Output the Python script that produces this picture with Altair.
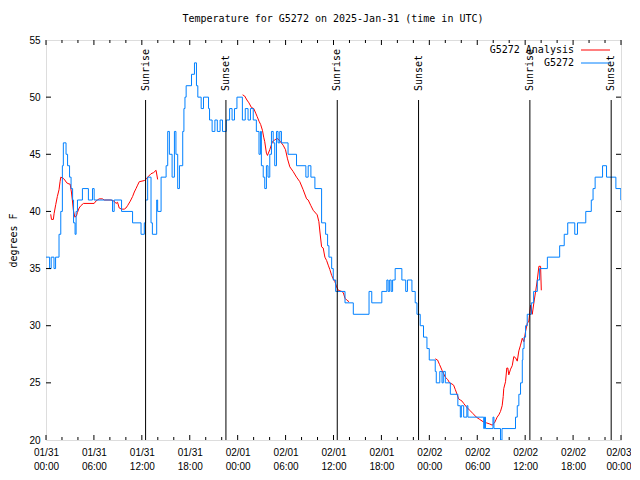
import altair as alt
import pandas as pd

TITLE = "Temperature for G5272 on 2025-Jan-31 (time in UTC)"
Y_TITLE = "degrees F"
OBS_NAME = "G5272"
ANA_NAME = "G5272 Analysis"
DAY_LABELS = ["01/31", "02/01", "02/02", "02/03"]

# hours since 2025-01-31 00:00 UTC, observed temperature (deg F)
obs_hours = [0.0, 0.45, 0.65, 1.0, 1.2, 1.63, 1.85, 2.05, 2.17, 2.51, 2.70, 2.95, 3.14, 3.33,
             3.45, 3.64, 3.77, 3.94, 4.56, 5.31, 5.82, 6.03, 8.33, 8.54, 9.46, 10.84, 11.90, 12.31,
             12.47, 12.73, 13.15, 13.32, 13.86, 13.98, 14.41, 15.04, 15.24, 15.45, 15.79, 16.08,
             16.27, 16.49, 16.71, 17.12, 17.27, 17.40, 17.55, 18.22, 18.59, 18.84, 19.01, 19.43,
             19.72, 20.35, 20.48, 20.80, 21.15, 21.45, 21.80, 22.10, 22.58, 22.99,
             23.30, 23.60, 23.91, 24.59, 24.95, 25.30, 25.60, 25.95, 26.34, 26.67,
             26.85, 26.97, 27.20, 27.39, 27.60, 27.80, 28.02, 28.23, 28.45, 28.64, 28.86, 29.06,
             29.27, 29.48, 30.31, 31.37, 32.54, 32.83, 33.17, 33.67, 34.51, 35.01, 35.26, 35.43,
             35.77, 35.97, 36.27, 37.44, 38.48, 40.45, 40.79, 42.05, 42.68, 42.84, 43.03, 43.22,
             43.40, 43.72, 44.56, 45.04, 45.26, 45.82, 46.23, 46.45, 46.86, 47.27, 47.70, 47.99,
             48.74, 48.87, 49.31, 49.59, 49.75, 50.00, 50.63, 51.57, 51.88, 52.01, 52.30, 52.70,
             52.83, 54.81, 54.90, 55.03, 55.97, 56.09, 56.91, 57.10, 58.79, 59.01, 59.21, 59.42,
             59.64, 59.71, 59.86, 60.05, 60.26, 60.77, 61.06, 61.52, 61.81, 62.78, 64.32, 64.89,
             65.33, 66.21, 66.55, 67.59, 68.28, 68.50, 68.76, 69.69, 70.19, 71.36, 71.98, 72.0]
obs_temps = [36, 35, 36, 35, 36, 38, 40, 44, 46, 45, 44, 43, 42, 41,
             39, 38, 40, 41, 42, 41, 42, 41, 40, 41, 40, 39, 38, 39,
             41, 43, 39, 38, 41, 40, 43, 44, 47, 45, 43, 47,
             45, 42, 44, 47, 49, 50, 51, 52, 53, 51, 50, 49,
             50, 49, 48, 47, 48, 47, 48, 47, 48, 49,
             48, 49, 50, 48, 49, 48, 49, 48, 47, 45,
             47, 44, 43, 42, 44, 43, 45, 47, 46, 44, 47, 46,
             47, 46, 45, 44, 43, 44, 43, 42, 39, 38, 37, 36,
             35, 34, 33, 32, 31, 33, 32, 33, 34, 33, 34, 33,
             34, 35, 34, 33, 34, 33, 32, 31, 30, 29, 28, 27,
             26, 25, 26, 25, 26, 25, 24, 23, 22, 23, 22, 23,
             22, 21, 22, 21, 22, 21, 20, 21, 22, 23, 24, 25,
             27, 28, 29, 30, 31, 32, 33, 34, 35, 36, 37, 38,
             39, 38, 39, 40, 41, 42, 43, 44, 43, 42, 41, 41]

# analysis, three separate runs
ana1_hours = [0.59, 0.69, 0.92, 1.01, 1.22, 1.42, 1.63, 1.76, 1.85, 2.17, 2.35, 2.60, 2.89, 3.02,
              3.18, 3.30, 3.43, 3.61, 3.81, 3.93, 4.15, 4.36, 4.69, 6.03, 6.24, 6.44, 6.66, 7.07,
              7.29, 8.13, 8.54, 8.76, 8.96, 9.17, 9.46, 9.80, 10.01, 10.21, 10.55, 10.84, 11.06,
              11.27, 11.47, 11.68, 12.31, 12.52, 12.73, 13.15, 13.48, 13.78, 13.98]
ana1_temps = [39.75, 39.3, 39.3, 39.8, 40.6, 41.3, 41.9, 42.6, 43.0, 42.9, 42.75, 42.5, 42.4, 42.4,
              41.7, 41.0, 40.1, 39.5, 39.6, 39.9, 40.3, 40.5, 40.7, 40.7, 40.9, 41.0, 41.1, 41.1,
              41.0, 41.0, 40.9, 40.7, 40.8, 40.3, 40.2, 40.2, 40.3, 40.5, 40.9, 41.3, 41.7,
              42.0, 42.3, 42.6, 42.7, 42.8, 43.0, 43.3, 43.4, 43.6, 42.8]
ana2_hours = [24.62, 24.87, 25.16, 25.41, 25.72, 26.01, 26.26, 26.44, 26.67, 26.88, 27.10, 27.26,
              27.39, 27.60, 27.73, 28.02, 28.35, 28.64, 28.93, 29.18, 29.69, 29.99, 30.24, 30.53,
              30.94, 31.37, 31.78, 32.20, 32.63, 32.83, 33.17, 33.46, 33.96, 34.17, 34.30, 34.51,
              34.71, 34.92, 35.14, 35.34, 35.55, 35.77, 35.97, 36.18, 36.39, 36.60, 37.02, 37.22,
              37.44, 37.65, 37.94]
ana2_temps = [50.2, 50.1, 49.75, 49.5, 49.1, 49.0, 48.6, 48.3, 47.9, 47.6, 47.1, 46.5,
              46.1, 45.1, 44.9, 45.4, 46.1, 46.25, 46.4, 46.25, 45.8, 45.4, 44.6, 43.9,
              43.5, 43.0, 42.6, 41.9, 41.1, 41.0, 40.5, 40.1, 39.7, 39.1, 38.2, 36.9,
              36.8, 36.0, 35.7, 35.3, 34.9, 34.4, 34.1, 33.85, 33.4, 33.1, 33.0, 32.9,
              32.4, 32.25, 32.1]
ana3_hours = [48.74, 49.03, 49.28, 49.59, 49.79, 50.00, 50.29, 50.54, 50.84, 51.04, 51.26, 51.47,
              51.67, 51.88, 52.10, 52.30, 52.64, 53.06, 53.48, 53.89, 54.31, 54.74, 55.15, 55.57,
              55.87, 56.16, 56.49, 56.70, 56.91, 57.12, 57.25, 57.32, 57.54, 57.70, 57.83, 57.95,
              58.17, 58.38, 58.58, 58.79, 59.01, 59.21, 59.42, 59.64, 59.84, 60.05, 60.26, 60.46,
              60.68, 60.89, 61.09, 61.31, 61.52, 61.72, 61.93, 62.02]
ana3_temps = [27.1, 27.0, 26.6, 26.1, 25.8, 25.5, 25.3, 25.0, 24.9, 24.8, 24.4, 24.0,
              23.6, 23.5, 23.4, 23.2, 22.9, 22.6, 22.3, 22.0, 21.8, 21.6, 21.5, 21.4,
              21.3, 21.5, 22.0, 22.2, 22.5, 23.0, 23.8, 24.5, 25.1, 26.3, 26.3, 25.7,
              26.2, 26.5, 27.3, 27.2, 26.9, 27.8, 28.3, 28.9, 28.6, 29.5, 30.2, 30.4,
              31.8, 31.0, 32.0, 33.0, 34.0, 35.2, 35.2, 33.1]

sun_hours = [12.47, 22.53, 36.47, 46.65, 60.59, 70.77]
sun_labels = ["Sunrise", "Sunset", "Sunrise", "Sunset", "Sunrise", "Sunset"]

major_x = list(range(0, 73, 6))
minor_x = [h for h in range(0, 73, 2) if h % 6 != 0]
y_ticks = [25, 30, 35, 40, 45, 50]

FONT = "DejaVu Sans Mono"
BLUE = "#0080ff"
RED = "#ff0000"

obs = pd.DataFrame({"hour": obs_hours, "temp": obs_temps})
ana = pd.concat([
    pd.DataFrame({"hour": h, "temp": t, "seg": i})
    for i, (h, t) in enumerate([(ana1_hours, ana1_temps), (ana2_hours, ana2_temps), (ana3_hours, ana3_temps)])
])
sun = pd.DataFrame({"hour": sun_hours, "label": sun_labels})
majors = pd.DataFrame({"hour": major_x})
minors = pd.DataFrame({"hour": minor_x})
yt = pd.DataFrame({"temp": y_ticks})

days_js = "[" + ",".join("'%s'" % d for d in DAY_LABELS) + "]"
label_expr = (f"[{days_js}[floor(datum.value/24)], "
              "(datum.value % 24 < 10 ? '0' : '') + (datum.value % 24) + ':00']")

xscale = alt.Scale(domain=[0, 72], nice=False, zero=False)
yscale = alt.Scale(domain=[20, 55], nice=False, zero=False)

X = alt.X("hour:Q", scale=xscale,
          axis=alt.Axis(values=major_x, labelExpr=label_expr, title=None, ticks=False, tickSize=0,
                        domain=False, grid=False, labelPadding=7, labelLineHeight=14,
                        labelFlush=False, labelOverlap=False, labelBaseline="top",
                        labelAlign={"condition": {"test": "datum.value >= 72", "value": "right"},
                                    "value": "center"},
                        labelOffset={"condition": {"test": "datum.value >= 72", "value": 10},
                                     "value": 0}))
Y = alt.Y("temp:Q", scale=yscale,
          axis=alt.Axis(values=[20, 25, 30, 35, 40, 45, 50, 55], title=Y_TITLE, ticks=False, tickSize=0,
                        domain=False, grid=False, labelPadding=6, titleX=-33, titleY=200,
                        titleAngle=270, titleAlign="center", titleBaseline="middle",
                        titleFont=FONT, titleFontSize=10, titleFontWeight="normal"))

ana_line = alt.Chart(ana).mark_line(color=RED, strokeWidth=1, clip=True).encode(
    x=X, y=Y, detail="seg:N")
obs_line = alt.Chart(obs).mark_line(color=BLUE, strokeWidth=1, interpolate="step-after", clip=True).encode(
    x="hour:Q", y="temp:Q")

sun_rule = alt.Chart(sun).mark_rule(color="black", strokeWidth=1).encode(
    x="hour:Q", y=alt.datum(20), y2=alt.datum(49.75))
sun_text = alt.Chart(sun).mark_text(angle=270, align="left", baseline="middle", dx=1,
                                    font=FONT, fontSize=10, color="black").encode(
    x="hour:Q", y=alt.datum(50.45), text="label:N")

maj_bot = alt.Chart(majors).mark_rule(color="black").encode(x="hour:Q", y=alt.value(400), y2=alt.value(395))
maj_top = alt.Chart(majors).mark_rule(color="black").encode(x="hour:Q", y=alt.value(0), y2=alt.value(5))
min_bot = alt.Chart(minors).mark_rule(color="black").encode(x="hour:Q", y=alt.value(400), y2=alt.value(397))
min_top = alt.Chart(minors).mark_rule(color="black").encode(x="hour:Q", y=alt.value(0), y2=alt.value(3))
y_left = alt.Chart(yt).mark_rule(color="black").encode(y="temp:Q", x=alt.value(0), x2=alt.value(5))
y_right = alt.Chart(yt).mark_rule(color="black").encode(y="temp:Q", x=alt.value(575), x2=alt.value(570))

title_df = pd.DataFrame({"t": [TITLE]})
title_txt = alt.Chart(title_df).mark_text(align="center", baseline="middle", font=FONT, fontSize=10,
                                          color="black").encode(
    x=alt.value(287), y=alt.value(-21), text="t:N")

leg_df1 = pd.DataFrame({"name": [ANA_NAME]})
leg_df2 = pd.DataFrame({"name": [OBS_NAME]})
leg_t1 = alt.Chart(leg_df1).mark_text(align="right", baseline="middle", font=FONT, fontSize=10,
                                      color="black").encode(x=alt.value(528), y=alt.value(10), text="name:N")
leg_t2 = alt.Chart(leg_df2).mark_text(align="right", baseline="middle", font=FONT, fontSize=10,
                                      color="black").encode(x=alt.value(528), y=alt.value(23), text="name:N")
leg_l1 = alt.Chart(leg_df1).mark_rule(color=RED, strokeWidth=1).encode(
    x=alt.value(535), x2=alt.value(564), y=alt.value(10))
leg_l2 = alt.Chart(leg_df2).mark_rule(color=BLUE, strokeWidth=1).encode(
    x=alt.value(535), x2=alt.value(564), y=alt.value(23))

chart = alt.layer(
    ana_line, obs_line, sun_rule, sun_text,
    maj_bot, maj_top, min_bot, min_top, y_left, y_right,
    title_txt, leg_t1, leg_l1, leg_t2, leg_l2,
).properties(
    width=575, height=400,
    padding={"left": 38, "top": 32, "right": 10, "bottom": 34},
    autosize=alt.AutoSizeParams(type="none"),
).configure_view(
    stroke="black", strokeWidth=1, fill="white"
).configure_axis(
    labelFont=FONT, labelFontSize=10, labelColor="black"
).configure(background="white")

chart.save("out.html", embed_options={"renderer": "svg", "actions": False})
